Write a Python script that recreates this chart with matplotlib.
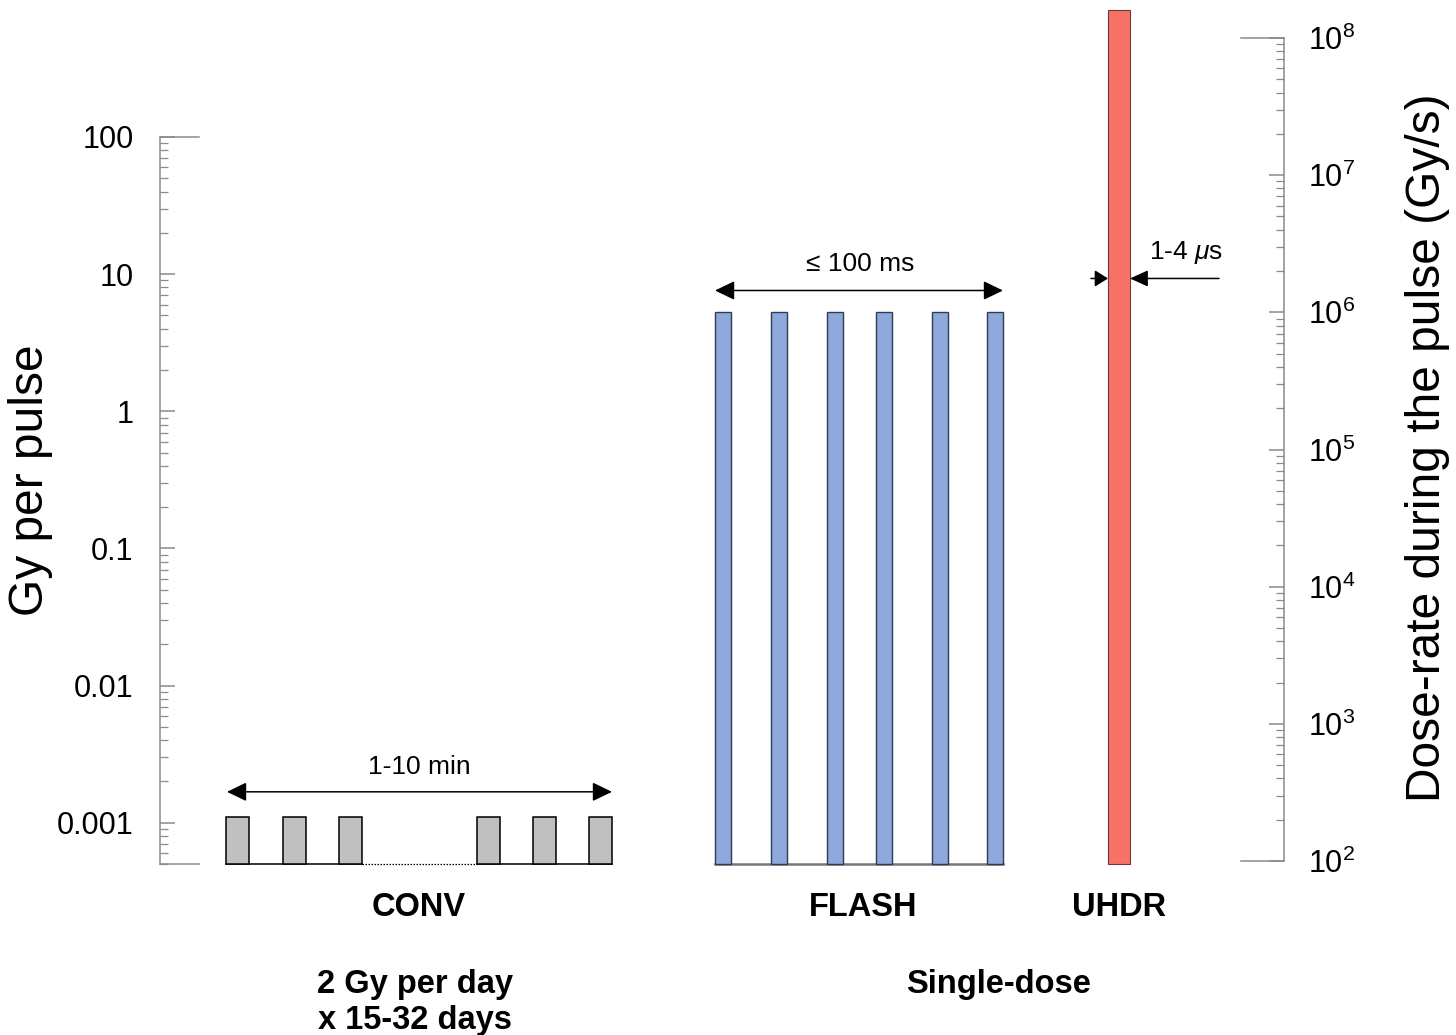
import matplotlib
matplotlib.use("Agg")
import matplotlib.pyplot as plt
from matplotlib.ticker import LogLocator, NullFormatter, FixedLocator, FixedFormatter

plt.rcParams['font.family'] = ['Liberation Sans', 'DejaVu Sans']
plt.rcParams['mathtext.fontset'] = 'custom'
plt.rcParams['mathtext.rm'] = 'Liberation Sans'
plt.rcParams['mathtext.it'] = 'Liberation Sans:italic'

# ---------------- data ----------------
left_ticks = [0.001, 0.01, 0.1, 1, 10, 100]
left_labels = ['0.001', '0.01', '0.1', '1', '10', '100']
left_lim = (0.0005, 100)
right_exps = [2, 3, 4, 5, 6, 7, 8]
right_lim = (1e2, 1e8)

conv_x = [237.5, 294, 350, 488.5, 544.5, 600.5]
conv_top = 0.0011
conv_w = 23
flash_x = [723, 779, 835, 884, 940, 995]
flash_top = 5.3
flash_w = 16
uhdr_x = [1119]
uhdr_top = 850
uhdr_w = 22
base = 0.0005

conv_arrow = (227, 612, 0.00168)
flash_arrow = (715, 1003, 7.6)
uhdr_arrow_y = 9.3

W, H = 1456, 1035
fig = plt.figure(figsize=(W / 100, H / 100), dpi=100)


def fx(x):
    return x / W


def fy(y):
    return 1 - y / H


gray = '#8a8a8a'

# ---------------- left axis ----------------
axL = fig.add_axes([fx(160), fy(864), (199 - 160) / W, (864 - 137) / H])
axL.set_yscale('log')
axL.set_ylim(*left_lim)
axL.set_xlim(0, 1)
axL.spines['right'].set_visible(False)
for s in ['left', 'top', 'bottom']:
    axL.spines[s].set_color(gray)
    axL.spines[s].set_linewidth(1.1)
axL.set_xticks([])
axL.yaxis.set_major_locator(FixedLocator(left_ticks))
axL.yaxis.set_major_formatter(FixedFormatter(left_labels))
axL.yaxis.set_minor_locator(LogLocator(base=10, subs=range(2, 10)))
axL.yaxis.set_minor_formatter(NullFormatter())
axL.tick_params(axis='y', which='major', direction='in', length=11, width=1.1,
                color=gray, labelsize=22, pad=19)
axL.tick_params(axis='y', which='minor', direction='in', length=6, width=0.9, color=gray)
axL.patch.set_alpha(0)

# ---------------- right axis ----------------
axR = fig.add_axes([fx(1241), fy(861), (1284 - 1241) / W, (861 - 38) / H])
axR.set_yscale('log')
axR.set_ylim(*right_lim)
axR.set_xlim(0, 1)
axR.spines['left'].set_visible(False)
for s in ['right', 'top', 'bottom']:
    axR.spines[s].set_color(gray)
    axR.spines[s].set_linewidth(1.1)
axR.set_xticks([])
axR.yaxis.tick_right()
axR.yaxis.set_major_locator(FixedLocator([10.0 ** e for e in right_exps]))
axR.yaxis.set_major_formatter(FixedFormatter(['$10^{%d}$' % e for e in right_exps]))
axR.yaxis.set_minor_locator(LogLocator(base=10, subs=range(2, 10)))
axR.yaxis.set_minor_formatter(NullFormatter())
axR.tick_params(axis='y', which='major', direction='in', length=11, width=1.1,
                color=gray, labelsize=22, pad=17)
axR.tick_params(axis='y', which='minor', direction='in', length=6, width=0.9, color=gray)
axR.patch.set_alpha(0)

# ---------------- bars ----------------
axM = fig.add_axes([0, fy(864), 1, (864 - 137) / H])
axM.set_yscale('log')
axM.set_ylim(*left_lim)
axM.set_xlim(0, W)
axM.axis('off')
axM.patch.set_alpha(0)

axM.bar(conv_x, [conv_top - base] * len(conv_x), bottom=base, width=conv_w,
        color='#c0c0c0', edgecolor='black', linewidth=1.1, clip_on=False, zorder=3)
axM.bar(flash_x, [flash_top - base] * len(flash_x), bottom=base, width=flash_w,
        color='#8eaadc', edgecolor='#2e3b52', linewidth=1.0, clip_on=False, zorder=3)
axM.bar(uhdr_x, [uhdr_top - base], bottom=base, width=uhdr_w,
        color='#fa7266', edgecolor='#6a3a36', linewidth=0.8, clip_on=False, zorder=3)

# baselines
hw = conv_w / 2
axM.plot([conv_x[0] - hw, conv_x[2] + hw], [base, base], color='black', lw=1.1,
         clip_on=False, zorder=2)
axM.plot([conv_x[2] + hw, conv_x[3] - hw], [base, base], color='black', lw=0.9,
         ls=(0, (1.2, 1.2)), clip_on=False, zorder=2)
axM.plot([conv_x[3] - hw, conv_x[5] + hw], [base, base], color='black', lw=1.1,
         clip_on=False, zorder=2)
fw = flash_w / 2
axM.plot([flash_x[0] - fw, flash_x[-1] + fw], [base, base], color='#777777', lw=1.8,
         clip_on=False, zorder=2)

# arrows
astyle = dict(arrowstyle='<|-|>,head_length=0.6,head_width=0.29', color='black',
              lw=1.1, shrinkA=0, shrinkB=0, mutation_scale=20)
axM.annotate('', xy=(conv_arrow[1], conv_arrow[2]), xytext=(conv_arrow[0], conv_arrow[2]),
             arrowprops=astyle, annotation_clip=False)
axM.annotate('', xy=(flash_arrow[1], flash_arrow[2]), xytext=(flash_arrow[0], flash_arrow[2]),
             arrowprops=astyle, annotation_clip=False)
sstyle = dict(arrowstyle='-|>,head_length=0.4,head_width=0.25', color='black',
              lw=1.1, shrinkA=0, shrinkB=0, mutation_scale=20)
ux = uhdr_x[0]
axM.annotate('', xy=(ux - uhdr_w / 2, uhdr_arrow_y), xytext=(1091, uhdr_arrow_y),
             arrowprops=sstyle, annotation_clip=False, zorder=5)
sstyle2 = dict(sstyle, arrowstyle='-|>,head_length=0.55,head_width=0.25')
axM.annotate('', xy=(ux + uhdr_w / 2, uhdr_arrow_y), xytext=(1219, uhdr_arrow_y),
             arrowprops=sstyle2, annotation_clip=False, zorder=5)

# ---------------- texts ----------------
fig.text(fx(419), fy(767), '1-10 min', ha='center', va='center', fontsize=19)
fig.text(fx(860), fy(264), '≤ 100 ms', ha='center', va='center', fontsize=19,
         family=['Liberation Sans', 'DejaVu Sans'])
fig.text(fx(1186), fy(253), '1-4 $\\mathit{\\mu}$s', ha='center', va='center', fontsize=19)

fig.text(fx(419), fy(908), 'CONV', ha='center', va='center', fontsize=23.5, weight='bold')
fig.text(fx(863), fy(908), 'FLASH', ha='center', va='center', fontsize=23.5, weight='bold')
fig.text(fx(1119), fy(908), 'UHDR', ha='center', va='center', fontsize=23.5, weight='bold')
fig.text(fx(415), fy(985), '2 Gy per day', ha='center', va='center', fontsize=23.5, weight='bold')
fig.text(fx(415), fy(1020), 'x 15-32 days', ha='center', va='center', fontsize=23.5, weight='bold')
fig.text(fx(998), fy(985), 'Single-dose', ha='center', va='center', fontsize=23.5, weight='bold')

fig.text(fx(31), fy(480), 'Gy per pulse', rotation=90, ha='center', va='center', fontsize=34.5)
fig.text(fx(1427), fy(448), 'Dose-rate during the pulse (Gy/s)', rotation=90,
         ha='center', va='center', fontsize=34.5)

fig.savefig('out.png', dpi=100)
